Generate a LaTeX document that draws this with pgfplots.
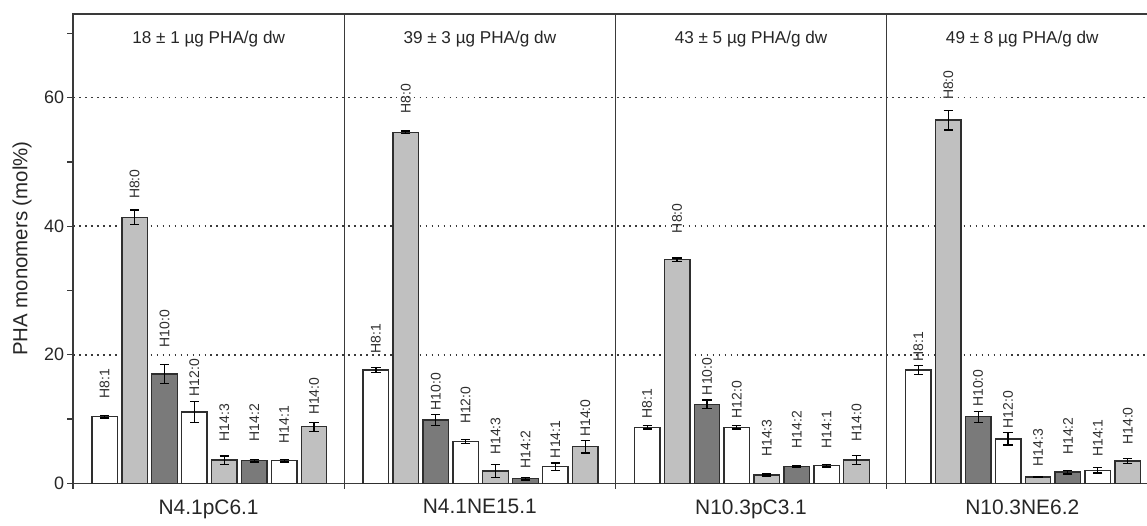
\documentclass[border=0pt]{standalone}
\usepackage{pgfplots}
\pgfplotsset{compat=1.18}
\usepackage{pgfplotstable}
\usepackage{fontspec}
\setmainfont{Liberation Sans}
\definecolor{lightbar}{HTML}{C0C0C0}
\definecolor{darkbar}{HTML}{7A7A7A}
\definecolor{edge}{HTML}{2E2E2E}
\definecolor{gridc}{HTML}{3A3A3A}

% x positions: panel p, bar j -> 9.07p + 1.06 + j
\pgfplotstableread{
x     y      e     ly    lab
1.06  10.35  0.2   13.2  H8:1
4.06  11.1   1.6   13.5  H12:0
7.06  3.5    0.2   6.2   H14:1
10.13 17.6   0.4   20.2  H8:1
13.13 6.5    0.3   9.2   H12:0
16.13 2.6    0.55  3.9   H14:1
19.20 8.7    0.25  10.1  H8:1
22.20 8.7    0.25  10.1  H12:0
25.20 2.75   0.2   5.4   H14:1
28.27 17.6   0.7   18.9  H8:1
31.27 6.9    0.95  8.5   H12:0
34.27 2.0    0.4   4.1   H14:1
}\whitetab

\pgfplotstableread{
x     y      e     ly    lab
2.06  41.35  1.15  44.2  H8:0
5.06  3.6    0.65  6.5   H14:3
8.06  8.8    0.7   10.6  H14:0
11.13 54.6   0.2   57.5  H8:0
14.13 1.9    1.0   4.4   H14:3
17.13 5.7    1.0   7.2   H14:0
20.20 34.8   0.25  38.9  H8:0
23.20 1.3    0.15  4.1   H14:3
26.20 3.6    0.7   6.5   H14:0
29.27 56.5   1.55  59.6  H8:0
32.27 0.95   0.05  2.6   H14:3
35.27 3.45   0.35  6.0   H14:0
}\lighttab

\pgfplotstableread{
x     y      e     ly    lab
3.06  17.0   1.5   21.1  H10:0
6.06  3.5    0.2   6.5   H14:2
12.13 9.85   0.9   11.3  H10:0
15.13 0.7    0.2   2.3   H14:2
21.20 12.3   0.65  13.7  H10:0
24.20 2.6    0.1   5.4   H14:2
30.27 10.35  0.85  11.9  H10:0
33.27 1.75   0.3   4.4   H14:2
}\darktab

\begin{document}
\begin{tikzpicture}
\begin{axis}[
  scale only axis,
  width=1084.9bp, height=469.3bp,
  xmin=0, xmax=36.28, ymin=0, ymax=73,
  axis line style={gridc, line width=1.4pt},
  tick pos=left,
  tick align=outside,
  major tick length=5.5bp, minor tick length=5.5bp,
  tick style={gridc, line width=1.3pt},
  ytick={0,20,40,60}, minor ytick={10,30,50,70},
  yticklabel style={font=\fontsize{18}{20}\selectfont, text=black!85},
  /pgf/number format/assume math mode=true,
  extra y ticks={20,40,60},
  extra y tick labels={},
  extra y tick style={grid=major},
  y grid style={gridc, line width=1.7pt, dash pattern=on 1.7pt off 4.3pt},
  xtick={0,9.07,18.14,27.21,36.28},
  xticklabels={},
  xmajorgrids,
  x grid style={gridc, solid, line width=1.3pt},
  extra x ticks={4.535,13.605,22.675,31.745},
  extra x tick labels={N4.1pC6.1,N4.1NE15.1,N10.3pC3.1,N10.3NE6.2},
  extra x tick style={major tick length=0pt, grid=none,
     xticklabel style={font=\fontsize{21}{23}\selectfont, text=black!85, inner sep=0pt, yshift=-16bp}},
  ylabel={PHA monomers (mol\%)},
  ylabel style={font=\fontsize{20.5}{22}\selectfont, text=black!85, at={(axis description cs:-0.035,0.5)}, anchor=south},
  error bars/error bar style={black, line width=1.2pt},
  error bars/error mark options={rotate=90, mark size=4.6bp, line width=1.2pt, black},
]
\addplot[ybar, bar width=0.853, bar shift=0pt, fill=white, draw=edge, line width=1.4pt,
  error bars/.cd, y dir=both, y explicit]
  table[x=x, y=y, y error=e] {\whitetab};
\addplot[ybar, bar width=0.853, bar shift=0pt, fill=lightbar, draw=edge, line width=1.4pt,
  error bars/.cd, y dir=both, y explicit]
  table[x=x, y=y, y error=e] {\lighttab};
\addplot[ybar, bar width=0.853, bar shift=0pt, fill=darkbar, draw=edge, line width=1.4pt,
  error bars/.cd, y dir=both, y explicit]
  table[x=x, y=y, y error=e] {\darktab};

\pgfplotsset{barlab/.style={draw=none, mark=none, nodes near coords, point meta=explicit symbolic,
  nodes near coords style={rotate=90, anchor=west, inner sep=0pt, font=\fontsize{14}{15}\selectfont, text=black!82}}}
\addplot[barlab] table[x=x, y=ly, meta=lab] {\whitetab};
\addplot[barlab] table[x=x, y=ly, meta=lab] {\lighttab};
\addplot[barlab] table[x=x, y=ly, meta=lab] {\darktab};

\node[anchor=base, font=\fontsize{17.2}{19}\selectfont, text=black!85] at (axis cs:4.535,68.4) {18 ± 1 µg PHA/g dw};
\node[anchor=base, font=\fontsize{17.2}{19}\selectfont, text=black!85] at (axis cs:13.605,68.4) {39 ± 3 µg PHA/g dw};
\node[anchor=base, font=\fontsize{17.2}{19}\selectfont, text=black!85] at (axis cs:22.675,68.4) {43 ± 5 µg PHA/g dw};
\node[anchor=base, font=\fontsize{17.2}{19}\selectfont, text=black!85] at (axis cs:31.745,68.4) {49 ± 8 µg PHA/g dw};
\end{axis}
\pgfresetboundingbox
\useasboundingbox (-73bp,-42.7bp) rectangle (1074bp,483.3bp);
\end{tikzpicture}
\end{document}
